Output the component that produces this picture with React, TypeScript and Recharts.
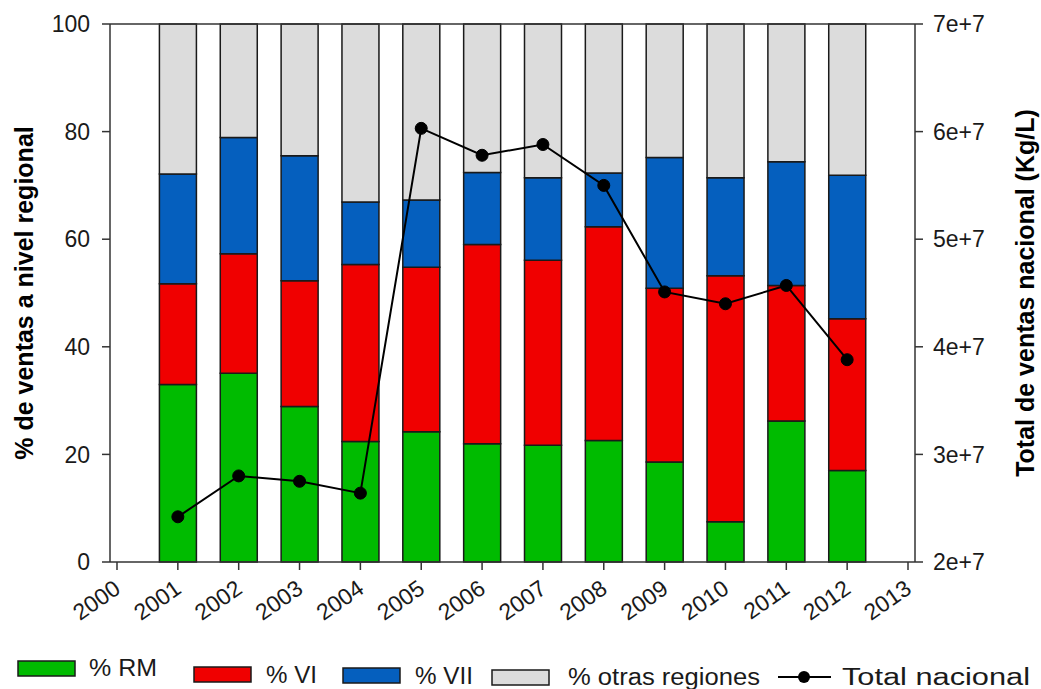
import { ComposedChart, Bar, Line, XAxis, YAxis, ReferenceLine, Legend, Label } from 'recharts';

const years = [2001, 2002, 2003, 2004, 2005, 2006, 2007, 2008, 2009, 2010, 2011, 2012];
const rm = [33.0, 35.1, 28.9, 22.4, 24.2, 22.0, 21.7, 22.6, 18.6, 7.5, 26.2, 17.0];
const vi = [18.7, 22.2, 23.4, 32.9, 30.6, 37.0, 34.4, 39.7, 32.3, 45.7, 25.2, 28.2];
const vii = [20.4, 21.6, 23.2, 11.6, 12.5, 13.4, 15.3, 10.0, 24.3, 18.2, 23.0, 26.7];
const otras = [27.9, 21.1, 24.5, 33.1, 32.7, 27.6, 28.6, 27.7, 24.8, 28.6, 25.6, 28.1];
const totalNacional = [2.42e7, 2.80e7, 2.75e7, 2.64e7, 6.03e7, 5.78e7, 5.88e7, 5.50e7, 4.51e7, 4.40e7, 4.57e7, 3.88e7];

const xTicks = [2000, 2001, 2002, 2003, 2004, 2005, 2006, 2007, 2008, 2009, 2010, 2011, 2012, 2013];
const leftTicks = [0, 20, 40, 60, 80, 100];
const rightTicks = [2e7, 3e7, 4e7, 5e7, 6e7, 7e7];

const data = years.map((year, i) => ({
  year,
  rm: rm[i],
  vi: vi[i],
  vii: vii[i],
  otras: otras[i],
  total: totalNacional[i],
}));

const FONT = '"Liberation Sans", Arial, sans-serif';
const AXIS = '#333';
const EDGE = '#1a1a1a';
const TICK_FONT = 23;

const series = [
  { key: 'rm', name: '% RM', color: '#00bb00' },
  { key: 'vi', name: '% VI', color: '#f00000' },
  { key: 'vii', name: '% VII', color: '#055fbe' },
  { key: 'otras', name: '% otras regiones', color: '#dcdcdc' },
];

const XTick = ({ x, y, payload }: any) => (
  <g transform={`translate(${x},${y})`}>
    <text x={5} y={20} textAnchor="end" transform="rotate(-35 5 20)" fontSize={TICK_FONT} fill="#1a1a1a" fontFamily={FONT}>
      {payload.value}
    </text>
  </g>
);

// legend placed by hand under the axis, items sit a little staggered like the original
const legendSlots = [
  { sx: 18, sy: 11, tx: 89, ty: 26, w: 68 },
  { sx: 194, sy: 17, tx: 266, ty: 33, w: 51 },
  { sx: 343, sy: 18, tx: 415, ty: 34, w: 58 },
  { sx: 492, sy: 20, tx: 568, ty: 35, w: 192 },
];

const LegendContent = () => (
  <svg width={1041} height={50} style={{ display: 'block' }}>
    {series.map((s, i) => {
      const p = legendSlots[i];
      return (
        <g key={s.key}>
          <rect x={p.sx} y={p.sy} width={57} height={15} fill={s.color} stroke={EDGE} strokeWidth={1.5} />
          <text x={p.tx} y={p.ty} fontSize={23} textLength={p.w} lengthAdjust="spacingAndGlyphs" fill="#1a1a1a" fontFamily={FONT}>
            {s.name}
          </text>
        </g>
      );
    })}
    <line x1={778} x2={831} y1={27} y2={27} stroke="#000" strokeWidth={2} />
    <circle cx={804} cy={27} r={6} fill="#000" />
    <text x={842} y={35} fontSize={23} textLength={188} lengthAdjust="spacingAndGlyphs" fill="#1a1a1a" fontFamily={FONT}>
      Total nacional
    </text>
  </svg>
);

const AxisTitle = ({ viewBox, cx, text }: any) => {
  const cy = viewBox.y + viewBox.height / 2;
  return (
    <text
      x={cx}
      y={cy}
      transform={`rotate(-90 ${cx} ${cy})`}
      textAnchor="middle"
      dominantBaseline="central"
      fontSize={25}
      fontWeight="bold"
      fill="#000"
      fontFamily={FONT}
    >
      {text}
    </text>
  );
};

export default function App() {
  return (
    <div style={{ position: 'absolute', left: 0, top: 0, fontFamily: FONT }}>
      <ComposedChart width={1041} height={689} data={data} margin={{ top: 24, right: 0, left: 0, bottom: 67 }}>
        <XAxis
          dataKey="year"
          type="number"
          domain={[1999.885, 2013.115]}
          allowDataOverflow
          ticks={xTicks}
          interval={0}
          height={60}
          tickSize={8}
          tick={<XTick />}
          stroke={AXIS}
          strokeWidth={1.5}
        />
        <YAxis
          yAxisId="left"
          domain={[0, 100]}
          ticks={leftTicks}
          width={110}
          tickSize={8}
          tickMargin={12}
          stroke={AXIS}
          strokeWidth={1.5}
          tick={{ fontSize: TICK_FONT, fill: '#1a1a1a', fontFamily: FONT }}
        >
          <Label content={(props: any) => <AxisTitle {...props} cx={24} text="% de ventas a nivel regional" />} />
        </YAxis>
        <YAxis
          yAxisId="right"
          orientation="right"
          domain={[2e7, 7e7]}
          ticks={rightTicks}
          width={126}
          tickSize={8}
          tickMargin={10}
          stroke={AXIS}
          strokeWidth={1.5}
          tickFormatter={(v: number) => `${Math.round(v / 1e7)}e+7`}
          tick={{ fontSize: TICK_FONT, fill: '#1a1a1a', fontFamily: FONT }}
        >
          <Label content={(props: any) => <AxisTitle {...props} cx={1025} text="Total de ventas nacional (Kg/L)" />} />
        </YAxis>
        <ReferenceLine yAxisId="left" y={100} stroke={AXIS} strokeWidth={1.5} />
        {series.map((s) => (
          <Bar
            key={s.key}
            yAxisId="left"
            dataKey={s.key}
            name={s.name}
            stackId="a"
            fill={s.color}
            stroke={EDGE}
            strokeWidth={1.5}
            barSize={37}
            isAnimationActive={false}
          />
        ))}
        <Line
          yAxisId="right"
          dataKey="total"
          name="Total nacional"
          stroke="#000"
          strokeWidth={2}
          dot={{ r: 6, fill: '#000', stroke: '#000', strokeWidth: 1 }}
          isAnimationActive={false}
        />
        <Legend
          verticalAlign="middle"
          align="center"
          layout="horizontal"
          wrapperStyle={{ top: 650, left: 0, width: 1041 }}
          content={<LegendContent />}
        />
      </ComposedChart>
    </div>
  );
}
